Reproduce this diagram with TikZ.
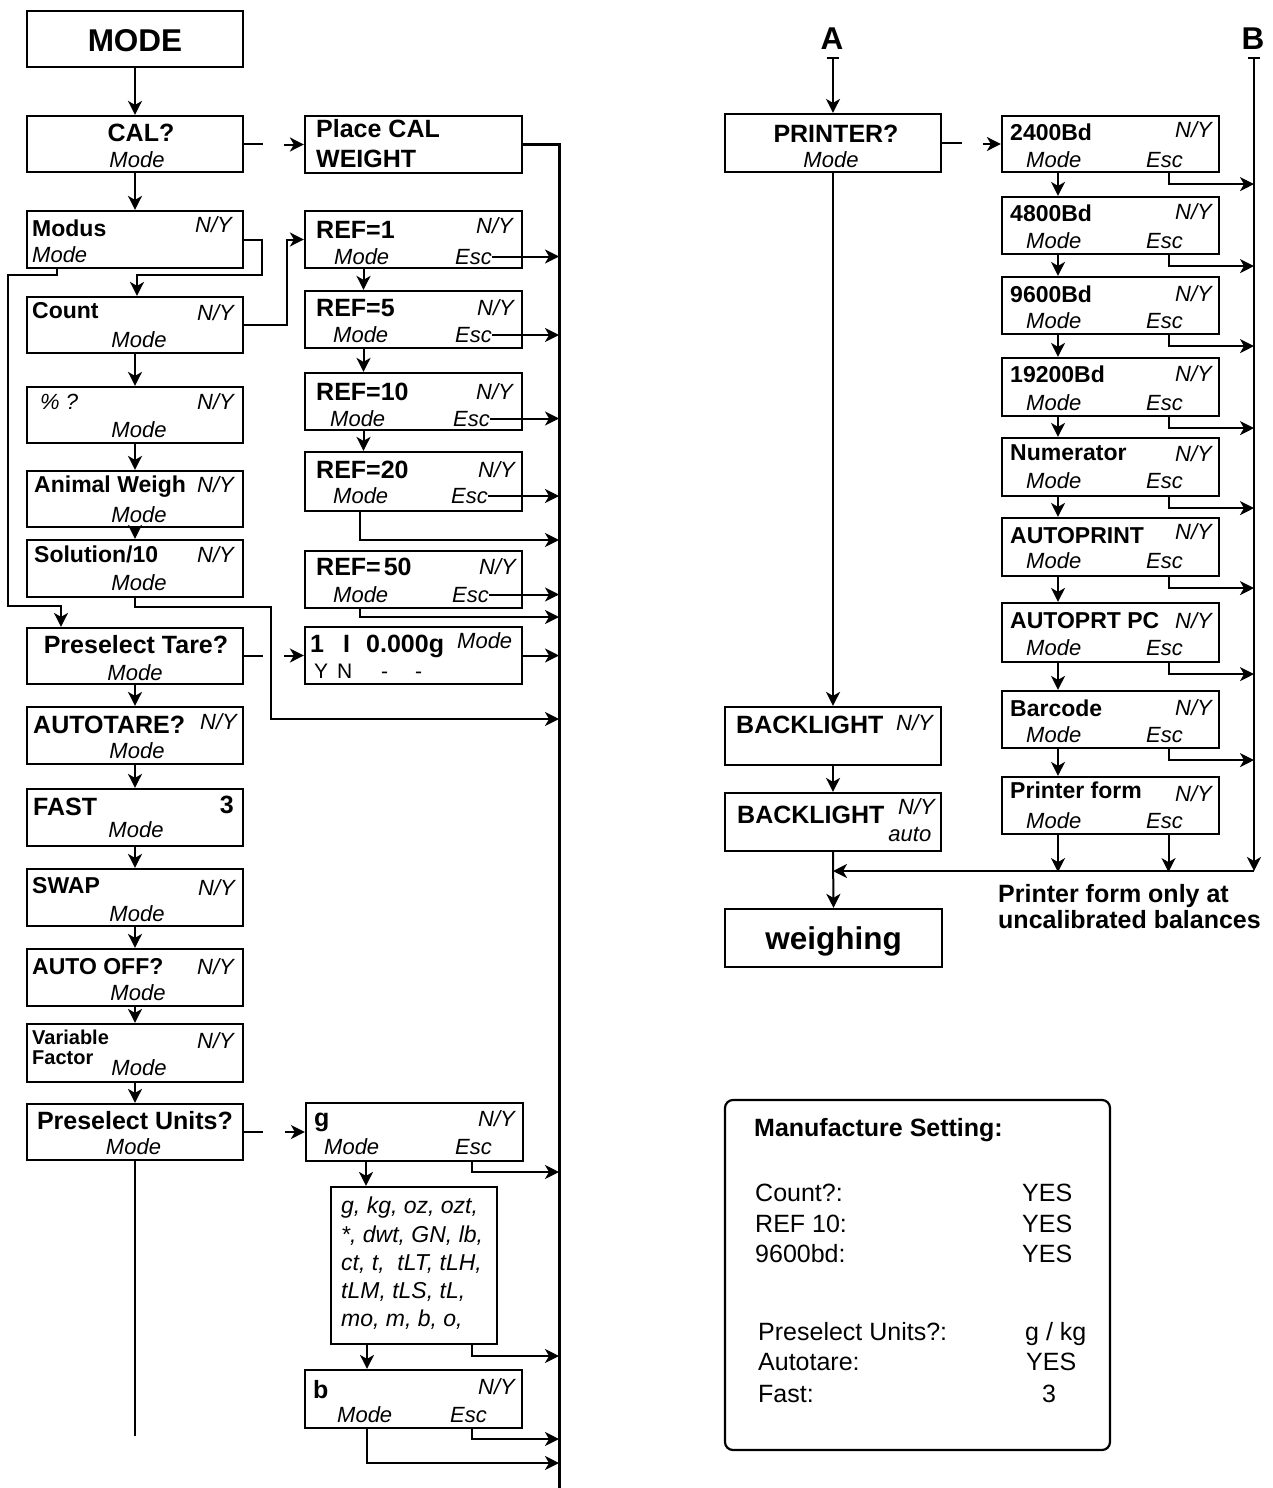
\documentclass[tikz,border=0pt]{standalone}
\usepackage{fontspec}
\setmainfont{Liberation Sans}
\usetikzlibrary{arrows.meta,calc}
\newcommand\bxx[5]{\node[boxs, minimum width={(#4)-(#2)}, minimum height={(#5)-(#3)}] (#1) at ({(#2+#4)/2},{(#3+#5)/2}) {};}
\newcommand\rbox[7]{\bxx{#1}{1002}{#2}{1219}{#3}
 \node[tb,anchor=west] (#1T) at (1010,#5) {#4};
 \node[ti,anchor=east] (#1N) at (1212,#6) {N/Y};
 \node[ti,anchor=west] (#1M) at (1026,#7) {Mode};
 \node[ti,anchor=west] (#1E) at (1146,#7) {Esc};}
\newcommand\rexit[1]{\draw[arr] ([xshift=58pt]#1.south) |- ($(#1.south -| busR)+(0,11)$);}
\begin{document}
\begin{tikzpicture}[x=1pt,y=-1pt,
  boxs/.style={draw, line width=2.2pt, inner sep=0pt, rectangle},
  tb/.style={inner sep=0pt, text depth=0pt, text height=16.5pt, font=\bfseries\fontsize{23}{26}\selectfont},
  tbb/.style={inner sep=0pt, text depth=0pt, text height=17.9pt, font=\bfseries\fontsize{25}{28}\selectfont},
  tbig/.style={inner sep=0pt, text depth=0pt, text height=22.5pt, font=\bfseries\fontsize{31.5}{34}\selectfont},
  tsm/.style={inner sep=0pt, text depth=0pt, text height=14.3pt, font=\bfseries\fontsize{20}{22}\selectfont},
  ti/.style={inner sep=0pt, text depth=0pt, text height=15.75pt, font=\itshape\fontsize{22}{24}\selectfont},
  til/.style={inner sep=0pt, text depth=0pt, text height=16.5pt, font=\itshape\fontsize{23}{25}\selectfont},
  tr/.style={inner sep=0pt, text depth=0pt, text height=15pt, font=\fontsize{21}{24}\selectfont},
  tm/.style={inner sep=0pt, text depth=0pt, text height=17.9pt, font=\fontsize{25}{28}\selectfont},
  line/.style={line width=2pt},
  arr/.style={line width=2pt, -{Stealth[length=14pt,width=14pt,inset=4pt]}},
  bus/.style={line width=3pt},
]
\useasboundingbox (0,0) rectangle (1273,1488);

% ---------------- left column
\bxx{mode}{27}{11}{243}{67}
\node[tbig] (modeT) at (135,40) {MODE};

\bxx{cal}{27}{116}{243}{172}
\node[tbb] (calT) at (141,132.5) {CAL?};
\node[ti] (calM) at (137,159.5) {Mode};

\bxx{modus}{27}{211}{243}{268}
\node[tb,anchor=west] (modusT) at (32,228.5) {Modus};
\node[ti,anchor=east] (modusN) at (232,225) {N/Y};
\node[ti,anchor=west] (modusM) at (32,255) {Mode};

\bxx{count}{27}{297}{243}{353}
\node[tb,anchor=west] (countT) at (32,310) {Count};
\node[ti,anchor=east] (countN) at (234,312.5) {N/Y};
\node[ti] (countM) at (139,340) {Mode};

\bxx{pct}{27}{387}{243}{443}
\node[ti,anchor=west] (pctT) at (40,401.5) {\% ?};
\node[ti,anchor=east] (pctN) at (234,401.5) {N/Y};
\node[ti] (pctM) at (139,430) {Mode};

\bxx{animal}{27}{471}{243}{527}
\node[tb,anchor=west] (animalT) at (34,484.5) {Animal Weigh};
\node[ti,anchor=east] (animalN) at (234,484.5) {N/Y};
\node[ti] (animalM) at (139,514.5) {Mode};

\bxx{sol}{27}{540}{243}{597}
\node[tb,anchor=west] (solT) at (34,554.5) {Solution/10};
\node[ti,anchor=east] (solN) at (234,554.5) {N/Y};
\node[ti] (solM) at (139,583) {Mode};

\bxx{ptare}{27}{628}{243}{684}
\node[tbb] (ptareT) at (136,645) {Preselect Tare?};
\node[ti] (ptareM) at (135,672.5) {Mode};

\bxx{atare}{27}{707}{243}{764}
\node[tbb,anchor=west] (atareT) at (33,725) {AUTOTARE?};
\node[ti,anchor=east] (atareN) at (237,722) {N/Y};
\node[ti] (atareM) at (137,751) {Mode};

\bxx{fast}{27}{789}{243}{846}
\node[tbb,anchor=west] (fastT) at (33,806.5) {FAST};
\node[tbb,anchor=east] (fastN) at (234,805) {3};
\node[ti] (fastM) at (136,830) {Mode};

\bxx{swap}{27}{869}{243}{926}
\node[tb,anchor=west] (swapT) at (32,885.5) {SWAP};
\node[ti,anchor=east] (swapN) at (235,887.5) {N/Y};
\node[ti] (swapM) at (137,913.5) {Mode};

\bxx{aoff}{27}{949}{243}{1006}
\node[tb,anchor=west] (aoffT) at (32,966.5) {AUTO OFF?};
\node[ti,anchor=east] (aoffN) at (234,966.5) {N/Y};
\node[ti] (aoffM) at (138,992.5) {Mode};

\bxx{vf}{27}{1024}{243}{1082}
\node[tsm,anchor=west] (vfT1) at (32,1037) {Variable};
\node[tsm,anchor=west] (vfT2) at (32,1057.5) {Factor};
\node[ti,anchor=east] (vfN) at (234,1040.5) {N/Y};
\node[ti] (vfM) at (139,1068) {Mode};

\bxx{punits}{27}{1104}{243}{1160}
\node[tbb] (punitsT) at (135,1121) {Preselect Units?};
\node[ti] (punitsM) at (133.5,1147) {Mode};

% ---------------- middle column
\bxx{place}{305}{116}{522}{173}
\node[tbb,anchor=west] (placeT1) at (316,129) {Place CAL};
\node[tbb,anchor=west] (placeT2) at (316,159) {WEIGHT};

\bxx{r1}{305}{211}{522}{268}
\node[tbb,anchor=west] (r1T) at (316,230) {REF=1};
\node[ti,anchor=east] (r1N) at (513,226) {N/Y};
\node[ti,anchor=west] (r1M) at (334,256.5) {Mode};
\node[ti,anchor=west] (r1E) at (455,256.5) {Esc};

\bxx{r5}{305}{291}{522}{348}
\node[tbb,anchor=west] (r5T) at (316,307.5) {REF=5};
\node[ti,anchor=east] (r5N) at (514,307.5) {N/Y};
\node[ti,anchor=west] (r5M) at (333,335) {Mode};
\node[ti,anchor=west] (r5E) at (455,335) {Esc};

\bxx{r10}{305}{373}{522}{430}
\node[tbb,anchor=west] (r10T) at (316,391.5) {REF=10};
\node[ti,anchor=east] (r10N) at (513,391.5) {N/Y};
\node[ti,anchor=west] (r10M) at (330,418.5) {Mode};
\node[ti,anchor=west] (r10E) at (453,418.5) {Esc};

\bxx{r20}{305}{452}{522}{511}
\node[tbb,anchor=west] (r20T) at (316,469.5) {REF=20};
\node[ti,anchor=east] (r20N) at (515,469.5) {N/Y};
\node[ti,anchor=west] (r20M) at (333,496) {Mode};
\node[ti,anchor=west] (r20E) at (451,496) {Esc};

\bxx{r50}{305}{551}{522}{608}
\node[tbb,anchor=west] (r50T) at (316,567) {REF=\kern3pt 50};
\node[ti,anchor=east] (r50N) at (516,567) {N/Y};
\node[ti,anchor=west] (r50M) at (333,594.5) {Mode};
\node[ti,anchor=west] (r50E) at (452,594.5) {Esc};

\bxx{zero}{305}{627}{522}{684}
\node[tbb,anchor=west] (zero1) at (310,643.5) {1};
\node[tbb,anchor=west] (zero2) at (343,643.5) {I};
\node[tbb,anchor=west] (zero3) at (366,643.5) {0.000g};
\node[ti,anchor=west] (zero4) at (457,641) {Mode};
\node[tr,anchor=west] (zero5) at (314,670.5) {Y};
\node[tr,anchor=west] (zero6) at (337,670.5) {N};
\node[tr,anchor=west] (zero7) at (381,670.5) {-};
\node[tr,anchor=west] (zero8) at (415,670.5) {-};

\bxx{gbox}{306}{1103}{523}{1161}
\node[tbb,anchor=west] (gT) at (314,1118) {g};
\node[ti,anchor=east] (gN) at (515,1119) {N/Y};
\node[ti,anchor=west] (gM) at (324,1146.5) {Mode};
\node[ti,anchor=west] (gE) at (455,1146.5) {Esc};

\bxx{ulist}{331}{1187}{497}{1344}
\node[til,anchor=west] (ul1) at (341,1205.5) {g, kg, oz, ozt,};
\node[til,anchor=west] (ul2) at (341,1234) {*, dwt, GN, lb,};
\node[til,anchor=west] (ul3) at (341,1262) {ct, t, \ tLT, tLH,};
\node[til,anchor=west] (ul4) at (341,1290) {tLM, tLS, tL,};
\node[til,anchor=west] (ul5) at (341,1318) {mo, m, b, o,};

\bxx{bbox}{305}{1370}{522}{1428}
\node[tbb,anchor=west] (bT) at (313,1389.5) {b};
\node[ti,anchor=east] (bN) at (515,1387) {N/Y};
\node[ti,anchor=west] (bM) at (337,1414.5) {Mode};
\node[ti,anchor=west] (bE) at (450,1414.5) {Esc};

\coordinate (busL) at (559,1488);
\coordinate (puEnd) at (135,1436);

% ---------------- right part
\node[tbig] (Alab) at (832,38) {A};
\node[tbig] (Blab) at (1253,38) {B};
\coordinate (Atop) at (833,57);
\coordinate (Btop) at (1254,57);
\coordinate (busR) at (1254,871);

\bxx{printer}{725}{114}{941}{172}
\node[tbb] (printerT) at (836,133.5) {PRINTER?};
\node[ti] (printerM) at (831,159.5) {Mode};

\rbox{ra}{116}{172}{2400Bd}{132.5}{130}{160}
\rbox{rb}{197}{254}{4800Bd}{213}{212}{240.5}
\rbox{rc}{277}{334}{9600Bd}{294.5}{294}{321}
\rbox{rd}{358}{416}{19200Bd}{374.5}{374}{402.5}
\rbox{re}{438}{496}{Numerator}{452.5}{454}{480.5}
\rbox{rf}{518}{576}{AUTOPRINT}{535}{532}{560.5}
\rbox{rg}{603}{662}{AUTOPRT PC}{620.5}{620.5}{647.5}
\rbox{rh}{691}{748}{Barcode}{708}{708}{734.5}
\rbox{ri}{777}{834}{Printer form}{790.5}{794}{820.5}

\bxx{bl1}{725}{707}{941}{765}
\node[tbb,anchor=west] (bl1T) at (736,725) {BACKLIGHT};
\node[ti,anchor=east] (bl1N) at (933,722.5) {N/Y};

\bxx{bl2}{725}{793}{941}{851}
\node[tbb,anchor=west] (bl2T) at (737,815) {BACKLIGHT};
\node[ti,anchor=east] (bl2N) at (935,806.5) {N/Y};
\node[ti,anchor=east] (bl2A) at (931.5,834) {auto};

\bxx{weigh}{725}{909}{942}{967}
\node[tbig] (weighT) at (833.5,938) {weighing};

\node[tbb,anchor=west] (note1) at (998,893.5) {Printer form only at};
\node[tbb,anchor=west] (note2) at (998,919.5) {uncalibrated balances};

% ---------------- manufacture setting box
\node[boxs, rounded corners=8pt, minimum width=385, minimum height=350] (manuf) at (917.5,1275) {};
\node[tbb,anchor=west] (mT) at (754,1128) {Manufacture Setting:};
\node[tm,anchor=west] (m1) at (755,1193) {Count?:};
\node[tm,anchor=west] (m1v) at (1022,1193) {YES};
\node[tm,anchor=west] (m2) at (755,1223.3) {REF 10:};
\node[tm,anchor=west] (m2v) at (1022,1223.3) {YES};
\node[tm,anchor=west] (m3) at (755,1253.3) {9600bd:};
\node[tm,anchor=west] (m3v) at (1022,1253.3) {YES};
\node[tm,anchor=west] (m4) at (758,1331.7) {Preselect Units?:};
\node[tm,anchor=west] (m4v) at (1025,1331.7) {g / kg};
\node[tm,anchor=west] (m5) at (758,1361.7) {Autotare:};
\node[tm,anchor=west] (m5v) at (1026,1361.7) {YES};
\node[tm,anchor=west] (m6) at (758,1393.3) {Fast:};
\node[tm] (m6v) at (1049,1393.3) {3};

% ---------------- connectors, left column
\draw[arr] (mode.south) -- (cal.north);
\draw[arr] (cal.south) -- (modus.north);
\draw[line] (cal.east) -- ++(19,0);
\draw[arr] ([xshift=-20pt]place.west) -- (place.west);
\draw[bus] (place.east) -| (busL);

\draw[arr] (modus.east) -- ++(18,0) -- ++(0,35.5) -| ([xshift=2pt]count.north);
\draw[arr] ([xshift=-78pt]modus.south) -- ++(0,6) -| (8,606) -| ([xshift=-74pt]ptare.north);
\draw[arr] (count.east) -- ++(43,0) |- (r1.west);

\draw[arr] (count.south) -- (pct.north);
\draw[arr] (pct.south) -- (animal.north);
\draw[arr] (animal.south) -- (sol.north);
\draw[arr] (sol.south) -- ++(0,9) -| (271,719) -- (busL |- 0,719);
\draw[arr] (ptare.south) -- (atare.north);
\draw[arr] (atare.south) -- (fast.north);
\draw[arr] (fast.south) -- (swap.north);
\draw[arr] (swap.south) -- (aoff.north);
\draw[arr] (aoff.south) -- (vf.north);
\draw[arr] (vf.south) -- (punits.north);
\draw[line] (punits.south) -- (puEnd);

\draw[line] (ptare.east) -- ++(19,0);
\draw[arr] ([xshift=-20pt]zero.west) -- (zero.west);
\draw[arr] (zero.east) -- (zero.east -| busL);

% REF chain
\draw[arr] ([xshift=-50pt]r1.south) -- ([xshift=-50pt]r5.north);
\draw[arr] ([xshift=-50pt]r5.south) -- ([xshift=-50pt]r10.north);
\draw[arr] ([xshift=-50pt]r10.south) -- ([xshift=-50pt]r20.north);
\draw[arr] (r1E.east) -- (r1E.east -| busL);
\draw[arr] (r5E.east) -- (r5E.east -| busL);
\draw[arr] (r10E.east) -- (r10E.east -| busL);
\draw[arr] (r20E.east) -- (r20E.east -| busL);
\draw[arr] (r50E.east) -- (r50E.east -| busL);
\draw[arr] ([xshift=-53.5pt]r20.south) |- (busL |- 0,540);
\draw[arr] ([xshift=-53.5pt]r50.south) |- (busL |- 0,617);

% units
\draw[line] (punits.east) -- ++(19,0);
\draw[arr] ([xshift=-20pt]gbox.west) -- (gbox.west);
\draw[arr] ([xshift=57.5pt]gbox.south) |- (busL |- 0,1172);
\draw[arr] ([xshift=-48.5pt]gbox.south) -- ([xshift=-48pt]ulist.north);
\draw[arr] ([xshift=58pt]ulist.south) |- (busL |- 0,1356);
\draw[arr] ([xshift=-47pt]ulist.south) -- ([xshift=-46.5pt]bbox.north);
\draw[arr] ([xshift=58.5pt]bbox.south) |- (busL |- 0,1439);
\draw[arr] ([xshift=-46.5pt]bbox.south) |- (busL |- 0,1463);

% ---------------- connectors, right part
\draw[line width=2pt, {Bar[width=12pt]}-{Stealth[length=14pt,width=14pt,inset=4pt]}] (Atop) -- (printer.north);
\draw[line] (printer.east) -- ++(20,0);
\draw[arr] ([xshift=-18pt]ra.west) -- (ra.west);
\draw[arr] (printer.south) -- (bl1.north);
\draw[arr] (bl1.south) -- (bl2.north);
\draw[arr] (bl2.south) -- (weigh.north);

\draw[arr] ([xshift=-52.5pt]ra.south) -- ([xshift=-52.5pt]rb.north);
\draw[arr] ([xshift=-52.5pt]rb.south) -- ([xshift=-52.5pt]rc.north);
\draw[arr] ([xshift=-52.5pt]rc.south) -- ([xshift=-52.5pt]rd.north);
\draw[arr] ([xshift=-52.5pt]rd.south) -- ([xshift=-52.5pt]re.north);
\draw[arr] ([xshift=-52.5pt]re.south) -- ([xshift=-52.5pt]rf.north);
\draw[arr] ([xshift=-52.5pt]rf.south) -- ([xshift=-52.5pt]rg.north);
\draw[arr] ([xshift=-52.5pt]rg.south) -- ([xshift=-52.5pt]rh.north);
\draw[arr] ([xshift=-52.5pt]rh.south) -- ([xshift=-52.5pt]ri.north);

\rexit{ra}\rexit{rb}\rexit{rc}\rexit{rd}\rexit{re}\rexit{rf}\rexit{rg}\rexit{rh}

\draw[arr] ([xshift=-52.5pt]ri.south) -- ++(0,37);
\draw[arr] ([xshift=58pt]ri.south) -- ++(0,37);
\draw[line width=2.4pt, {Bar[width=12pt]}-{Stealth[length=14pt,width=14pt,inset=4pt]}] (Btop) -- (busR);
\draw[arr] (busR) -- (bl2.south |- busR);
\end{tikzpicture}
\end{document}
